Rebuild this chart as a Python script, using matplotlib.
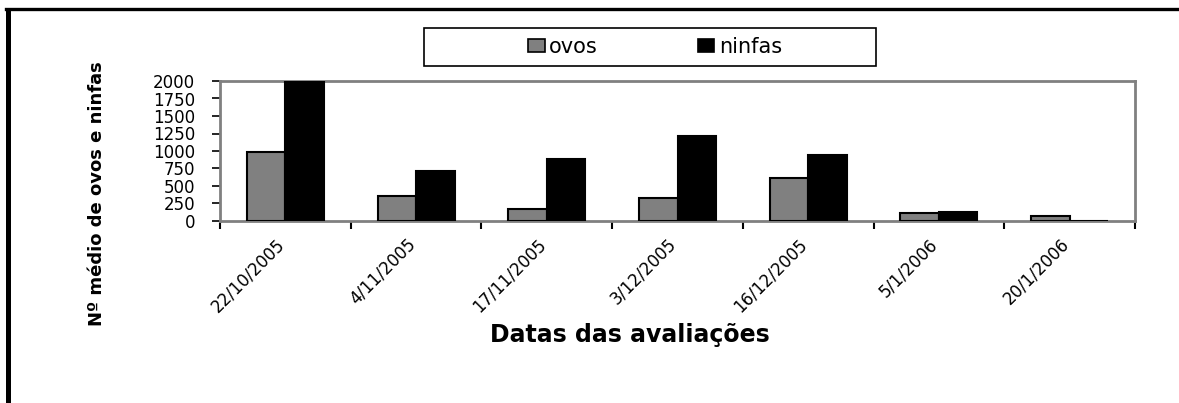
import matplotlib
matplotlib.use("Agg")
import matplotlib.pyplot as plt
from matplotlib.patches import Rectangle, Patch
from matplotlib.lines import Line2D
from matplotlib.transforms import ScaledTranslation
import numpy as np

# Sampling dates and mean counts per date
datas = ["22/10/2005", "4/11/2005", "17/11/2005", "3/12/2005",
         "16/12/2005", "5/1/2006", "20/1/2006"]
ovos = [990, 360, 175, 325, 615, 110, 65]
ninfas = [1980, 715, 885, 1215, 945, 125, 5]
yticks = [0, 250, 500, 750, 1000, 1250, 1500, 1750, 2000]

plt.rcParams["font.family"] = ["DejaVu Sans"]

W, H = 1179, 403
AX_L, AX_R, AX_T, AX_B = 220, 1135, 81, 221
fig = plt.figure(figsize=(W / 100, H / 100), dpi=100)
fig.patch.set_facecolor("white")

ax = fig.add_axes([AX_L / W, 1 - AX_B / H, (AX_R - AX_L) / W, (AX_B - AX_T) / H])

x = np.arange(len(datas))
bw = 0.295
ax.bar(x - bw / 2, ovos, width=bw, color="#808080", edgecolor="black",
       linewidth=1.5, label="ovos", zorder=3)
ax.bar(x + bw / 2, ninfas, width=bw, color="black", edgecolor="black",
       linewidth=1.5, label="ninfas", zorder=3)

ax.set_xlim(-0.5, len(datas) - 0.5)
ax.set_ylim(0, 2000)
ax.set_yticks(yticks)
ax.set_yticklabels([str(v) for v in yticks], fontsize=12)
ax.tick_params(axis="y", direction="out", length=6, width=1.2, color="black",
               pad=12)

# category boundaries carry the tick marks, labels sit at the centres
ax.set_xticks(np.arange(-0.5, len(datas)), minor=False)
ax.set_xticklabels([])
ax.tick_params(axis="x", which="major", direction="out", length=6, width=1.5,
               color="black")
ax.set_xticks(x, minor=True)
ax.set_xticklabels(datas, minor=True, rotation=45, ha="right",
                   rotation_mode="anchor", fontsize=12)
ax.tick_params(axis="x", which="minor", length=0, pad=10)
shift = ScaledTranslation(-10 / 100, 0, fig.dpi_scale_trans)
for lbl in ax.get_xticklabels(minor=True):
    lbl.set_transform(lbl.get_transform() + shift)

for s in ax.spines.values():
    s.set_color("#808080")
    s.set_linewidth(2)

ax.set_ylabel("Nº médio de ovos e ninfas", fontsize=13, fontweight="bold")
ax.yaxis.set_label_coords(-(AX_L - 97) / (AX_R - AX_L),
                          0.5 - (194 - 151) / (AX_B - AX_T))
ax.yaxis.label.set_verticalalignment("center")

fig.text(630 / W, 1 - 335 / H, "Datas das avaliações", fontsize=17,
         fontweight="bold", ha="center", va="center")

# legend box
fig.patches.append(Rectangle((424 / W, 1 - 66 / H), (876 - 424) / W, (66 - 28) / H,
                             transform=fig.transFigure, facecolor="white",
                             edgecolor="black", linewidth=1.2))
handles = [Patch(facecolor="#808080", edgecolor="black", linewidth=1.2),
           Patch(facecolor="black", edgecolor="black", linewidth=1.2)]
fig.legend(handles, ["ovos", "ninfas"], loc="center",
           bbox_to_anchor=(655 / W, 1 - 47 / H), ncol=2, frameon=False,
           fontsize=15, handlelength=0.8, handleheight=0.6, handletextpad=0.2,
           columnspacing=4.8)

# page frame: heavy rule on top, double rule on the left
fig.add_artist(Line2D([6 / W, 1], [1 - 8.5 / H, 1 - 8.5 / H],
                      transform=fig.transFigure, color="black", linewidth=2.4))
fig.add_artist(Line2D([6.5 / W, 6.5 / W], [0, 1 - 8.5 / H],
                      transform=fig.transFigure, color="black", linewidth=0.8,
                      antialiased=False))
fig.add_artist(Line2D([9.5 / W, 9.5 / W], [0, 1 - 10 / H],
                      transform=fig.transFigure, color="black", linewidth=0.8,
                      antialiased=False))

fig.savefig("out.png", dpi=100, facecolor="white")
